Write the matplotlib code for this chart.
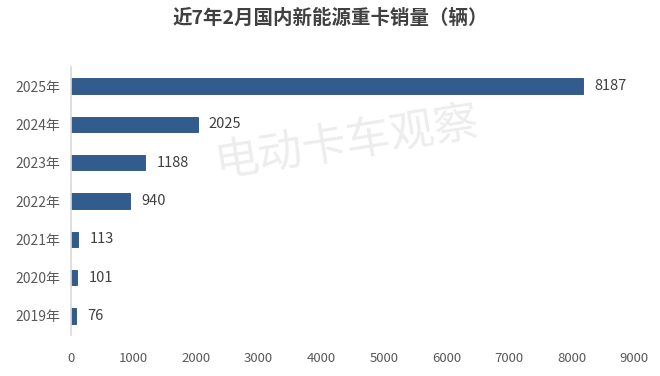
import matplotlib
matplotlib.use("Agg")
import matplotlib.pyplot as plt

plt.rcParams['font.family'] = ['Noto Sans CJK SC', 'DejaVu Sans']

categories = ["2019年", "2020年", "2021年", "2022年", "2023年", "2024年", "2025年"]
values = [76, 101, 113, 940, 1188, 2025, 8187]
xticks = [0, 1000, 2000, 3000, 4000, 5000, 6000, 7000, 8000, 9000]
title = "近7年2月国内新能源重卡销量（辆）"
watermark = "电动卡车观察"

fig = plt.figure(figsize=(6.6, 3.76), dpi=100)
ax = fig.add_axes([71/660, 1-335/376, (634-71)/660, (335-67)/376])

bar_color = "#335C8E"
ypos = list(range(len(categories)))
ax.barh(ypos, values, height=0.4, color=bar_color, edgecolor="#2A4F7C", linewidth=0.6)
for y, v in zip(ypos, values):
    ax.text(v + 180, y, str(v), va="center", ha="left", fontsize=10.5, color="#404040")

ax.set_xlim(0, 9000)
ax.set_ylim(-0.5, len(categories) - 0.5)
ax.set_yticks(ypos)
ax.set_yticklabels(categories, fontsize=10, color="#595959")
ax.set_xticks(xticks)
ax.set_xticklabels([str(t) for t in xticks], fontsize=9.5, color="#595959")
ax.tick_params(axis="both", length=0)
ax.tick_params(axis="x", pad=12)
ax.tick_params(axis="y", pad=8)
for s in ["top", "right", "bottom"]:
    ax.spines[s].set_visible(False)
ax.spines["left"].set_color("#D9D9D9")
ax.spines["left"].set_linewidth(1.2)

fig.text(0.5, 1-18/376, title, ha="center", va="center", fontsize=14,
         fontweight="bold", color="#404040")
fig.text(347/660, 1-142/376, watermark, ha="center", va="center", fontsize=32,
         fontweight="light", color="#EDEDED", rotation=9, zorder=0)

fig.savefig("out.png", dpi=100)
